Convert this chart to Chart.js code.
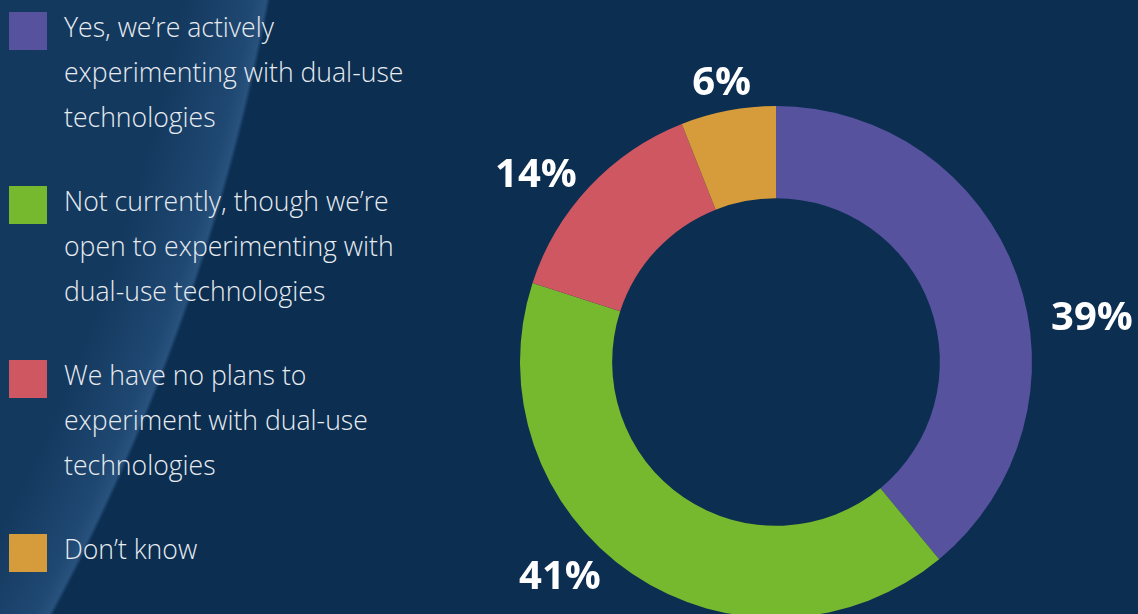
<!DOCTYPE html>
<html>
<head>
<meta charset="utf-8">
<script src="https://cdn.jsdelivr.net/npm/chart.js@4.4.1/dist/chart.umd.min.js"></script>
<style>
  html, body { margin: 0; padding: 0; }
  body {
    width: 1138px; height: 614px; overflow: hidden; position: relative;
    background:
      radial-gradient(circle 2150px at -1842px -400px, #12375f 0, #14395f 96%, #1f4872 99.2%, #28527d 99.8%, rgba(11,46,81,0) 100%),
      #0b2e51;
    font-family: "Open Sans", sans-serif;
  }
  #legend { position: absolute; left: 9px; top: 5px; }
  .item { display: flex; align-items: flex-start; margin-bottom: 39px; }
  .sw { width: 38px; height: 38px; margin-top: 7px; flex: none; }
  .txt { margin-left: 17px; color: #e8ebf0; font-weight: 300; font-size: 26.6px; line-height: 45px; white-space: nowrap; }
  #wrap { position: absolute; left: 0; top: 0; width: 1138px; height: 620px; }
</style>
</head>
<body>
<div id="legend"></div>
<div id="wrap"><canvas id="myChart" width="1138" height="620"></canvas></div>
<script>
; ((D) => {
  let catNames = [
    ["Yes, we’re actively", "experimenting with dual-use", "technologies"],
    ["Not currently, though we’re", "open to experimenting with", "dual-use technologies"],
    ["We have no plans to", "experiment with dual-use", "technologies"],
    ["Don’t know"],
  ];
  let percents = [39, 41, 14, 6];
  let sColors = ["#56529e", "#76b82e", "#cf5762", "#d69b3a"];

  // legend on the left, built from the same arrays
  let lg = D.querySelector('#legend');
  for (let i = 0; i < catNames.length; i++) {
    let it = D.createElement('div');
    it.className = 'item';
    it.innerHTML = '<div class="sw" style="background:' + sColors[i] + '"></div>' +
      '<div class="txt">' + catNames[i].join('<br>') + '</div>';
    lg.appendChild(it);
  }

  // pixel nudges for the percentage labels, applied after radial placement
  let labelNudge = [[28, 58], [-44, -39], [-17, 21], [3, 20]];

  let pctLabels = {
    id: 'pctLabels',
    afterDatasetsDraw(chart) {
      let ctx = chart.ctx;
      let meta = chart.getDatasetMeta(0);
      ctx.save();
      ctx.fillStyle = '#ffffff';
      ctx.font = 'bold 40px "Open Sans"';
      ctx.textAlign = 'center';
      ctx.textBaseline = 'middle';
      meta.data.forEach((arc, i) => {
        let p = arc.getProps(['x', 'y', 'startAngle', 'endAngle', 'outerRadius'], true);
        let a = (p.startAngle + p.endAngle) / 2;
        let r = p.outerRadius + 50;
        let x = p.x + Math.cos(a) * r + labelNudge[i][0];
        let y = p.y + Math.sin(a) * r + labelNudge[i][1];
        ctx.fillText(chart.data.datasets[0].data[i] + '%', x, y + 2);
      });
      ctx.restore();
    }
  };

  var ctx = D.querySelector('#myChart').getContext('2d');
  let chart = new Chart(ctx, {
    type: 'doughnut',
    data: {
      labels: catNames.map(l => l.join(' ')),
      datasets: [{
        data: percents,
        backgroundColor: sColors,
        borderWidth: 0,
        hoverOffset: 0,
      }],
    },
    options: {
      responsive: false,
      animation: false,
      devicePixelRatio: 1,
      cutout: '64%',
      layout: { padding: { left: 520, right: 106, top: 106, bottom: 2 } },
      plugins: { legend: { display: false }, tooltip: { enabled: false } },
    },
    plugins: [pctLabels],
  });
})(document)
</script>
</body>
</html>
